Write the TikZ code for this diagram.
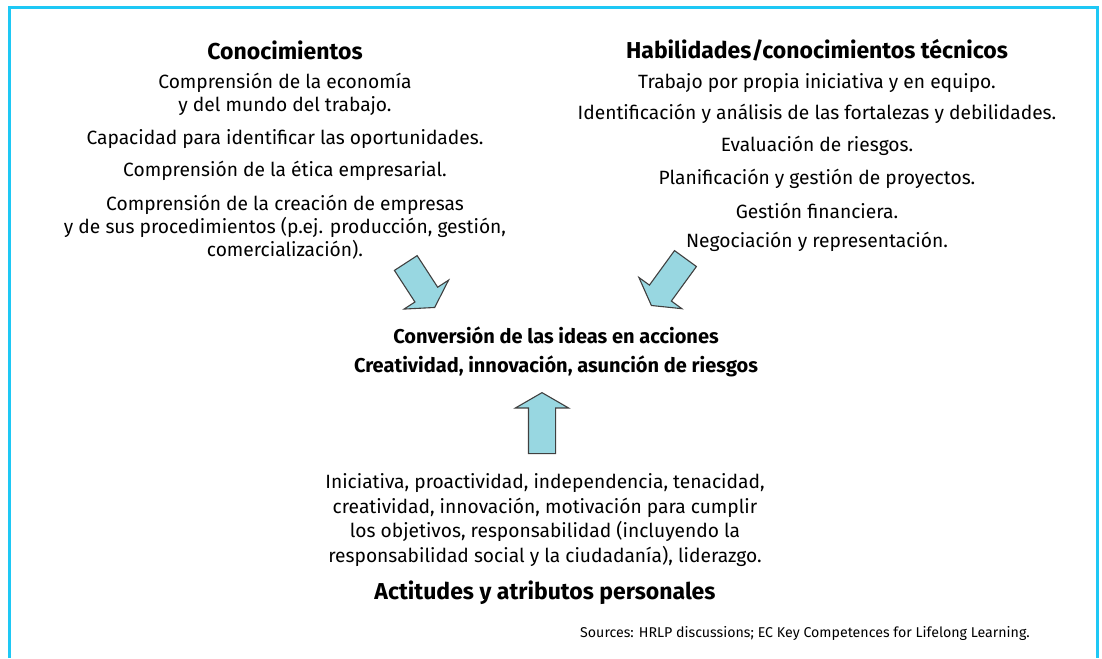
\documentclass[tikz,border=0pt]{standalone}
\usepackage{fontspec}
\setmainfont{Fira Sans}
\usetikzlibrary{shapes.arrows}

\definecolor{framecyan}{RGB}{30,200,245}
\definecolor{arrowfill}{RGB}{152,215,225}

\tikzset{
	item/.style={align=center, inner sep=0pt, font=\fontsize{19.2}{23}\selectfont},
	heading/.style={align=center, inner sep=0pt, font=\fontsize{23}{29}\selectfont\bfseries},
	bigarrow/.style={single arrow, draw=black!75, fill=arrowfill, line width=1.1pt,
		inner xsep=0pt, inner ysep=13pt, minimum width=0pt,
		single arrow head extend=13pt, single arrow tip angle=120, anchor=tip}
}

\begin{document}
\begin{tikzpicture}[x=1pt,y=-1pt]
	\useasboundingbox (0,0) rectangle (1102,658);
	\draw[framecyan, line width=3pt] (9,658) -- (9,8) -- (1097,8) -- (1097,658);

	\node[heading] (know) at (285,50) {Conocimientos};
	\node[item] (k1) at (285,94) {Comprensión de la economía\\y del mundo del trabajo.};
	\node[item] (k2) at (285,139) {Capacidad para identificar las oportunidades.};
	\node[item] (k3) at (285,171) {Comprensión de la ética empresarial.};
	\node[item] (k4) at (285,227) {Comprensión de la creación de empresas\\y de sus procedimientos (p.ej. producción, gestión,\\comercialización).};

	\node[heading] (skills) at (817,50) {Habilidades/conocimientos técnicos};
	\node[item] (s1) at (817,83) {Trabajo por propia iniciativa y en equipo.};
	\node[item] (s2) at (817,114) {Identificación y análisis de las fortalezas y debilidades.};
	\node[item] (s3) at (817,146) {Evaluación de riesgos.};
	\node[item] (s4) at (817,179) {Planificación y gestión de proyectos.};
	\node[item] (s5) at (817,211) {Gestión financiera.};
	\node[item] (s6) at (817,242) {Negociación y representación.};

	\node[heading, font=\fontsize{20}{29}\selectfont\bfseries] (core) at (556,352) {Conversión de las ideas en acciones\\Creatividad, innovación, asunción de riesgos};

	\node[item, font=\fontsize{19.2}{24.5}\selectfont] (att) at (545,520) {Iniciativa, proactividad, independencia, tenacidad,\\creatividad, innovación, motivación para cumplir\\los objetivos, responsabilidad (incluyendo la\\responsabilidad social y la ciudadanía), liderazgo.};
	\node[heading] (atttitle) at (545,593) {Actitudes y atributos personales};

	\node[inner sep=0pt, font=\fontsize{14.2}{16}\selectfont] (src) at (805,633) {Sources: HRLP discussions; EC Key Competences for Lifelong Learning.};

	\node[bigarrow, minimum height=53pt, rotate=-57] (arrknow) at (435,308) {};
	\node[bigarrow, minimum height=58pt, rotate=-126] (arrskills) at (651,306) {};
	\node[bigarrow, minimum height=61pt, rotate=90] (arratt) at (542,392) {};
\end{tikzpicture}
\end{document}
